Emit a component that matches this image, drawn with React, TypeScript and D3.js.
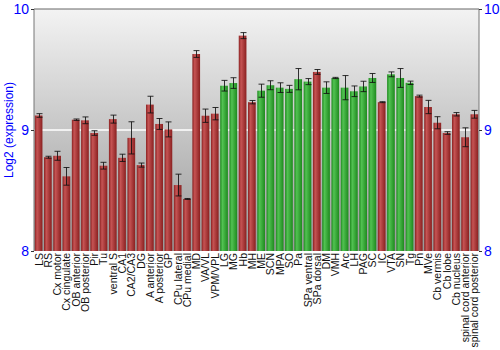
import React, { useEffect, useRef } from 'react';
import * as d3 from 'd3';

const regions = [
  'LS', 'RS', 'Cx motor', 'Cx cingulate', 'OB anterior', 'OB posterior', 'Pir', 'Tu',
  'ventral S', 'CA1', 'CA2/CA3', 'DG', 'A anterior', 'A posterior', 'GP', 'CPu lateral',
  'CPu medial', 'MD', 'VA/VL', 'VPM/VPL', 'LG', 'MG', 'Hb', 'MH', 'ME', 'SCN', 'MPA', 'SO',
  'Pa', 'SPa ventral', 'SPa dorsal', 'DM', 'VMH', 'Arc', 'LH', 'PAG', 'SC', 'IC', 'VTA',
  'SN', 'Tg', 'Pn', 'MVe', 'Cb vermis', 'Cb lobe', 'Cb nucleus', 'spinal cord anterior',
  'spinal cord posterior',
];

const expression = [
  9.12, 8.775, 8.787, 8.617, 9.085, 9.08, 8.975, 8.705,
  9.09, 8.77, 8.935, 8.71, 9.21, 9.05, 9.005, 8.545,
  8.43, 9.628, 9.118, 9.135, 9.366, 9.388, 9.78, 9.23, 9.325, 9.37, 9.35, 9.34,
  9.42, 9.40, 9.48, 9.35, 9.43, 9.35, 9.32, 9.36, 9.43, 9.23, 9.46,
  9.43, 9.39, 9.28, 9.19, 9.06, 8.975, 9.13, 8.94,
  9.13,
];

const stderr = [
  0.015, 0.008, 0.037, 0.073, 0.006, 0.028, 0.019, 0.028,
  0.033, 0.03, 0.133, 0.017, 0.069, 0.045, 0.062, 0.09,
  0.004, 0.028, 0.055, 0.051, 0.044, 0.044, 0.025, 0.014, 0.054, 0.037, 0.04, 0.029,
  0.088, 0.025, 0.02, 0.048, 0.005, 0.1, 0.044, 0.043, 0.037, 0.004, 0.02,
  0.078, 0.014, 0.008, 0.055, 0.05, 0.011, 0.014, 0.078,
  0.032,
];

// 1 = highlighted (green)
const highlighted = [
  0, 0, 0, 0, 0, 0, 0, 0,
  0, 0, 0, 0, 0, 0, 0, 0,
  0, 0, 0, 0, 1, 1, 0, 0, 1, 1, 1, 1,
  1, 1, 0, 1, 1, 1, 1, 1, 1, 0, 1,
  1, 1, 0, 0, 0, 0, 0, 0,
  0,
];

const yTicks = [8, 9, 10];

export default function App() {
  const ref = useRef<SVGSVGElement>(null);

  useEffect(() => {
    const svg = d3.select(ref.current);
    svg.selectAll('*').remove();

    const left = 34, right = 479, top = 9, bottom = 251;

    const x = d3.scaleBand().domain(regions).range([left, right]).paddingInner(0.17).paddingOuter(0.08);
    const y = d3.scaleLinear().domain([8, 10]).range([bottom, top]);

    const defs = svg.append('defs');
    const bg = defs.append('linearGradient').attr('id', 'bg').attr('x1', 0).attr('x2', 0).attr('y1', 0).attr('y2', 1);
    bg.append('stop').attr('offset', '0%').attr('stop-color', '#f3f3f3');
    bg.append('stop').attr('offset', '100%').attr('stop-color', '#999999');

    const barGrad = (id, dark, light) => {
      const g = defs.append('linearGradient').attr('id', id).attr('x1', 0).attr('x2', 1).attr('y1', 0).attr('y2', 0);
      g.append('stop').attr('offset', '0%').attr('stop-color', dark);
      g.append('stop').attr('offset', '30%').attr('stop-color', light);
      g.append('stop').attr('offset', '100%').attr('stop-color', dark);
    };
    barGrad('red', '#8a2020', '#c65454');
    barGrad('green', '#1e8a1e', '#52c252');

    svg.append('rect')
      .attr('x', left).attr('y', top)
      .attr('width', right - left).attr('height', bottom - top)
      .attr('fill', 'url(#bg)');

    // white reference line at 9
    svg.append('line')
      .attr('x1', left).attr('x2', right)
      .attr('y1', y(9)).attr('y2', y(9))
      .attr('stroke', '#ffffff').attr('stroke-width', 1.5);

    svg.selectAll('rect.bar')
      .data(regions)
      .enter()
      .append('rect')
      .attr('class', 'bar')
      .attr('x', (d) => x(d))
      .attr('y', (d, i) => y(expression[i]))
      .attr('width', x.bandwidth())
      .attr('height', (d, i) => bottom - y(expression[i]))
      .attr('fill', (d, i) => (highlighted[i] ? 'url(#green)' : 'url(#red)'));

    // error bars
    const err = svg.append('g').attr('stroke', '#111').attr('stroke-width', 1).attr('stroke-opacity', 0.85);
    regions.forEach((r, i) => {
      const cx = Math.round(x(r) + x.bandwidth() / 2) + 0.5;
      const hi = y(expression[i] + stderr[i]);
      const lo = y(expression[i] - stderr[i]);
      err.append('line').attr('x1', cx).attr('x2', cx).attr('y1', hi).attr('y2', lo);
      err.append('line').attr('x1', cx - 3).attr('x2', cx + 3).attr('y1', hi).attr('y2', hi);
      err.append('line').attr('x1', cx - 3).attr('x2', cx + 3).attr('y1', lo).attr('y2', lo);
    });

    // frame: top and left/right axis lines
    svg.append('line').attr('x1', left).attr('x2', right).attr('y1', top).attr('y2', top).attr('stroke', '#666');
    svg.append('line').attr('x1', left).attr('x2', left).attr('y1', top).attr('y2', bottom).attr('stroke', '#777');
    svg.append('line').attr('x1', right).attr('x2', right).attr('y1', top).attr('y2', bottom).attr('stroke', '#777');

    const leftAxis = svg.append('g').attr('transform', `translate(${left},0)`)
      .call(d3.axisLeft(y).tickValues(yTicks).tickFormat(d3.format('d')).tickSize(3).tickPadding(2));
    const rightAxis = svg.append('g').attr('transform', `translate(${right},0)`)
      .call(d3.axisRight(y).tickValues(yTicks).tickFormat(d3.format('d')).tickSize(3).tickPadding(2));
    [leftAxis, rightAxis].forEach((a) => {
      a.select('.domain').remove();
      a.selectAll('line').attr('stroke', '#333');
      a.selectAll('text')
        .attr('fill', '#0000ff')
        .style('font-family', 'Liberation Sans, Arial, sans-serif')
        .style('font-size', '14px');
    });

    svg.append('text')
      .attr('transform', `translate(13,${(top + bottom) / 2}) rotate(-90)`)
      .attr('text-anchor', 'middle')
      .attr('fill', '#0000ff')
      .style('font-family', 'Liberation Sans, Arial, sans-serif')
      .style('font-size', '12px')
      .text('Log2 (expression)');

    svg.selectAll('text.cat')
      .data(regions)
      .enter()
      .append('text')
      .attr('class', 'cat')
      .attr('transform', (d) => `translate(${x(d) + x.bandwidth() / 2 + 4},${bottom + 2}) rotate(-90)`)
      .attr('text-anchor', 'end')
      .attr('fill', '#111')
      .style('font-family', 'Liberation Sans, Arial, sans-serif')
      .style('font-size', '10.5px')
      .text((d) => d);
  }, []);

  return (
    <svg ref={ref} width={500} height={350}
      style={{ position: 'absolute', left: 0, top: 0, background: '#fff' }} />
  );
}
